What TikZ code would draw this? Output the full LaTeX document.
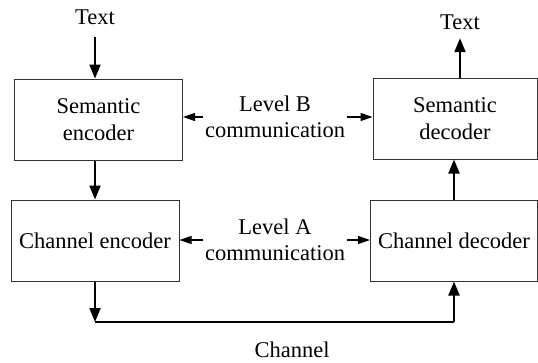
\documentclass[tikz,border=0pt]{standalone}
\usepackage{fontspec}
\setmainfont{Liberation Serif}
\newfontfamily\diagfont{Liberation Serif}
\usetikzlibrary{arrows.meta}
\begin{document}
\begin{tikzpicture}[x=1pt,y=-1pt,
  every node/.style={font=\diagfont\fontsize{22.5}{26.5}\selectfont},
  blockbox/.style={draw=black!80,line width=1pt,minimum width=168pt,minimum height=81pt,inner sep=0pt,align=center},
  lbl/.style={inner sep=0pt,align=center},
  midlbl/.style={inner sep=1.5pt,align=center},
  thickarrow/.style={line width=2pt,-{Triangle[length=14pt,width=11pt]}},
  thickline/.style={line width=2pt},
  thinarrow/.style={line width=1.2pt,-{Triangle[length=12pt,width=8pt]}}]
\useasboundingbox (0,0) rectangle (538,362);
\node[blockbox] (senc) at (98.5,119.5) {Semantic\\encoder};
\node[blockbox] (cenc) at (95,240.5) {Channel encoder};
\node[blockbox,minimum width=164pt] (sdec) at (455,118.5) {Semantic\\decoder};
\node[blockbox,minimum width=167pt] (cdec) at (454,240.5) {Channel decoder};
\node[lbl] (tin) at (95,17.5) {Text};
\node[lbl] (tout) at (460,22.5) {Text};
\node[midlbl] (lb) at (275,117) {Level B\\communication};
\node[midlbl] (la) at (275,240) {Level A\\communication};
\node[lbl] (ch) at (292,349.5) {Channel};
\coordinate (cl) at (95,322);
\coordinate (cr) at (454,322);
% vertical flows
\draw[thickarrow,shorten <=12pt] (tin.south) -- (tin.south |- senc.north);
\draw[thickarrow] (senc.south -| cenc.north) -- (cenc.north);
\draw[thickarrow] (cenc.south) -- (cl);
\draw[thickline] (cl) -- (cr);
\draw[thickarrow] (cr) -- (cdec.south);
\draw[thickarrow] (cdec.north) -- (cdec.north |- sdec.south);
\draw[thickarrow,shorten >=8pt] (sdec.north -| tout.south) -- (tout.south);
% level arrows
\draw[thinarrow] (lb.west) -- (lb.west -| senc.east);
\draw[thinarrow] (lb.east) -- (lb.east -| sdec.west);
\draw[thinarrow] (la.west) -- (la.west -| cenc.east);
\draw[thinarrow] (la.east) -- (la.east -| cdec.west);
\end{tikzpicture}
\end{document}
